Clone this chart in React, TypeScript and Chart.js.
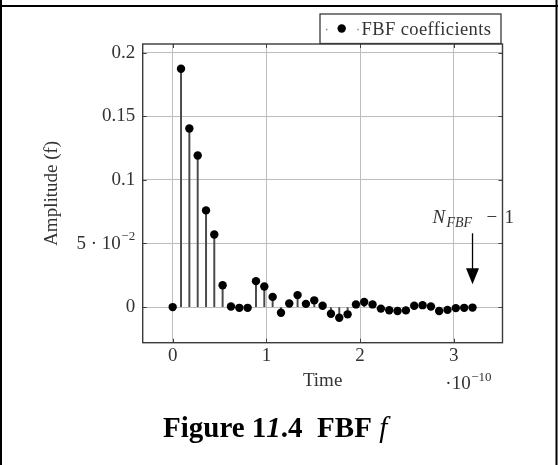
import React, { useEffect, useRef } from 'react';
import { Chart, registerables } from 'chart.js';

Chart.register(...registerables);

// Sample times (units of 1e-10 s)
const TIMES = [
  0, 0.089, 0.178, 0.267, 0.356, 0.444, 0.533, 0.622, 0.711, 0.8,
  0.889, 0.978, 1.067, 1.156, 1.244, 1.333, 1.422, 1.511, 1.6, 1.689,
  1.778, 1.867, 1.956, 2.044, 2.133, 2.222, 2.311, 2.4, 2.489, 2.578,
  2.667, 2.756, 2.844, 2.933, 3.022, 3.111, 3.2,
];

// FBF coefficient amplitudes
const COEFFS = [
  0, 0.1873, 0.1404, 0.1192, 0.076, 0.057, 0.0172, 0.0004, -0.0006, -0.0006,
  0.0204, 0.0162, 0.008, -0.0044, 0.0028, 0.0094, 0.0025, 0.0053, 0.001, -0.0052,
  -0.0084, -0.0057, 0.0021, 0.004, 0.0021, -0.0012, -0.0025, -0.0031, -0.0026, 0.0011,
  0.0015, 0.0004, -0.0031, -0.0022, -0.0008, -0.0006, -0.0004,
];

const X_TICKS = [0, 1, 2, 3];
const X_TICK_LABELS = ['0', '1', '2', '3'];
const Y_TICKS = [0, 0.05, 0.1, 0.15, 0.2];
const Y_TICK_LABELS = ['0', '5 · 10^−2', '0.1', '0.15', '0.2'];

const X_MIN = -0.32;
const X_MAX = 3.52;
const Y_MIN = -0.028;
const Y_MAX = 0.2068;

const X_TITLE = 'Time';
const X_EXPONENT = ['·10', '−10'];
const Y_TITLE = 'Amplitude (f)';
const LEGEND_LABEL = 'FBF coefficients';
const ANNOT_X = 3.2;
const ANNOT_FROM = 0.058;
const ANNOT_TO = 0.018;
const CAPTION = ['Figure 1', '1', '.4  FBF ', 'f'];

const SERIF = '"Liberation Serif", "Times New Roman", serif';
const TXT = '#333333';

const overlayPlugin = {
  id: 'overlay',
  beforeDraw(chart: any) {
    const { ctx, width, height } = chart;
    ctx.save();
    ctx.fillStyle = '#ffffff';
    ctx.fillRect(0, 0, width, height);
    ctx.restore();
  },
  beforeDatasetsDraw(chart: any) {
    const { ctx, chartArea: a, scales } = chart;
    ctx.save();
    ctx.strokeStyle = '#404040';
    ctx.lineWidth = 1;
    ctx.beginPath();
    for (const v of X_TICKS) {
      const px = Math.round(scales.x.getPixelForValue(v)) + 0.5;
      ctx.moveTo(px, a.bottom);
      ctx.lineTo(px, a.bottom - 4);
      ctx.moveTo(px, a.top);
      ctx.lineTo(px, a.top + 4);
    }
    for (const v of Y_TICKS) {
      const py = Math.round(scales.y.getPixelForValue(v)) + 0.5;
      ctx.moveTo(a.left, py);
      ctx.lineTo(a.left + 4, py);
      ctx.moveTo(a.right, py);
      ctx.lineTo(a.right - 4, py);
    }
    ctx.stroke();
    ctx.strokeStyle = '#3a3a3a';
    ctx.lineWidth = 1.4;
    ctx.strokeRect(a.left, a.top, a.right - a.left, a.bottom - a.top);
    ctx.restore();
  },
  afterDraw(chart: any) {
    const { ctx, chartArea: a, scales, width, height } = chart;
    ctx.save();
    ctx.fillStyle = TXT;
    Y_TICK_LABELS.forEach((lab, i) => {
      if (lab.indexOf('^') < 0) return;
      const [base, exp] = lab.split('^');
      const py = scales.y.getPixelForValue(Y_TICKS[i]);
      const right = a.left - 7.5;
      ctx.textAlign = 'right';
      ctx.textBaseline = 'middle';
      ctx.font = `13px ${SERIF}`;
      ctx.fillText(exp, right, py - 7);
      const ew = ctx.measureText(exp).width;
      ctx.font = `19px ${SERIF}`;
      ctx.fillText(base, right - ew - 0.5, py + 1);
    });
    {
      const right = a.right - 11;
      ctx.textAlign = 'right';
      ctx.textBaseline = 'alphabetic';
      ctx.font = `13px ${SERIF}`;
      ctx.fillText(X_EXPONENT[1], right, a.bottom + 38);
      const ew = ctx.measureText(X_EXPONENT[1]).width;
      ctx.font = `19px ${SERIF}`;
      ctx.fillText(X_EXPONENT[0], right - ew - 0.5, a.bottom + 46.5);
    }
    {
      const lx = 320, ly = 14, lw = 181, lh = 29.5;
      ctx.fillStyle = '#ffffff';
      ctx.fillRect(lx, ly, lw, lh);
      ctx.strokeStyle = '#3a3a3a';
      ctx.lineWidth = 1.3;
      ctx.strokeRect(lx, ly, lw, lh);
      const cy = ly + 14.5;
      ctx.fillStyle = '#999999';
      ctx.beginPath();
      ctx.arc(lx + 6.7, cy + 1, 0.9, 0, Math.PI * 2);
      ctx.arc(lx + 38, cy + 1, 0.9, 0, Math.PI * 2);
      ctx.fill();
      ctx.fillStyle = '#000000';
      ctx.beginPath();
      ctx.arc(lx + 21.7, cy, 4.2, 0, Math.PI * 2);
      ctx.fill();
      ctx.fillStyle = TXT;
      ctx.font = `18.5px ${SERIF}`;
      ctx.textAlign = 'left';
      ctx.textBaseline = 'alphabetic';
      try { (ctx as any).letterSpacing = '0.4px'; } catch (e) {}
      ctx.fillText(LEGEND_LABEL, lx + 41.5, ly + 21);
      try { (ctx as any).letterSpacing = '0px'; } catch (e) {}
    }
    {
      const ax = scales.x.getPixelForValue(ANNOT_X);
      const y0 = scales.y.getPixelForValue(ANNOT_FROM);
      const y1 = scales.y.getPixelForValue(ANNOT_TO);
      ctx.strokeStyle = '#000000';
      ctx.lineWidth = 1.3;
      ctx.beginPath();
      ctx.moveTo(ax, y0);
      ctx.lineTo(ax, y1 - 14);
      ctx.stroke();
      ctx.fillStyle = '#000000';
      ctx.beginPath();
      ctx.moveTo(ax - 6.5, y1 - 16);
      ctx.lineTo(ax + 6.5, y1 - 16);
      ctx.lineTo(ax, y1);
      ctx.closePath();
      ctx.fill();
      const base = y0 - 10;
      ctx.fillStyle = TXT;
      ctx.textAlign = 'left';
      ctx.textBaseline = 'alphabetic';
      ctx.font = `italic 19px ${SERIF}`;
      ctx.fillText('N', ax - 40, base);
      ctx.font = `italic 14px ${SERIF}`;
      ctx.fillText('FBF', ax - 26, base + 4);
      ctx.font = `19px ${SERIF}`;
      ctx.fillText('−', ax + 14, base);
      ctx.fillText('1', ax + 32, base);
    }
    ctx.fillStyle = '#000000';
    ctx.fillRect(0, 5, width, 2);
    ctx.fillRect(0, 0, 2, height);
    ctx.fillRect(width - 2.5, 0, 2, height);
    {
      let x = 163;
      const y = 437;
      ctx.fillStyle = '#000000';
      ctx.textAlign = 'left';
      ctx.textBaseline = 'alphabetic';
      const fonts = [
        `bold 29px ${SERIF}`,
        `italic bold 29px ${SERIF}`,
        `bold 29px ${SERIF}`,
        `italic 29px ${SERIF}`,
      ];
      CAPTION.forEach((t, i) => {
        ctx.font = fonts[i];
        ctx.fillText(t, x, y);
        x += ctx.measureText(t).width;
      });
    }
    ctx.restore();
  },
};

export default function App() {
  const ref = useRef<HTMLCanvasElement>(null);
  useEffect(() => {
    const canvas = ref.current;
    if (!canvas) return;
    const points = TIMES.map((t, i) => ({ x: t, y: COEFFS[i] }));
    const chart = new Chart(canvas, {
      type: 'scatter',
      data: {
        datasets: [
          {
            type: 'scatter',
            label: LEGEND_LABEL,
            data: points,
            pointRadius: 4.2,
            pointBackgroundColor: '#000000',
            pointBorderWidth: 0,
            borderColor: '#000000',
            showLine: false,
            order: 0,
          } as any,
          {
            type: 'bar',
            label: 'stems',
            data: points,
            backgroundColor: '#4a4a4a',
            barThickness: 1.3,
            borderWidth: 0,
            order: 1,
          } as any,
        ],
      },
      options: {
        responsive: false,
        animation: false,
        devicePixelRatio: 1,
        events: [],
        layout: { padding: { left: 0, right: 55.5, top: 44, bottom: 72.3 } },
        plugins: {
          legend: { display: false },
          tooltip: { enabled: false },
          title: { display: false },
        },
        scales: {
          x: {
            type: 'linear',
            min: X_MIN,
            max: X_MAX,
            offset: false,
            afterBuildTicks: (s: any) => {
              s.ticks = X_TICKS.map((v) => ({ value: v }));
            },
            afterFit: (s: any) => {
              s.height = 50;
            },
            ticks: {
              callback: (v: any) => {
                const i = X_TICKS.indexOf(Number(v));
                return i >= 0 ? X_TICK_LABELS[i] : '';
              },
              font: { family: SERIF, size: 19 },
              color: TXT,
              padding: 2,
              maxRotation: 0,
              autoSkip: false,
            },
            grid: { color: '#bdbdbd', lineWidth: 1, drawTicks: false, offset: false },
            border: { display: false },
            title: {
              display: true,
              text: X_TITLE,
              font: { family: SERIF, size: 19 },
              color: TXT,
              padding: { top: 0, bottom: 0 },
            },
          },
          y: {
            type: 'linear',
            min: Y_MIN,
            max: Y_MAX,
            afterBuildTicks: (s: any) => {
              s.ticks = Y_TICKS.map((v) => ({ value: v }));
            },
            afterFit: (s: any) => {
              s.width = 142.7;
            },
            ticks: {
              callback: (v: any) => {
                const i = Y_TICKS.findIndex((t) => Math.abs(t - Number(v)) < 1e-9);
                if (i < 0) return '';
                const lab = Y_TICK_LABELS[i];
                return lab.indexOf('^') >= 0 ? '' : lab;
              },
              font: { family: SERIF, size: 19 },
              color: TXT,
              padding: 7.5,
              autoSkip: false,
            },
            grid: { color: '#bdbdbd', lineWidth: 1, drawTicks: false },
            border: { display: false },
            title: {
              display: true,
              text: Y_TITLE,
              font: { family: SERIF, size: 19 },
              color: TXT,
              padding: { top: 40.3, bottom: 0 },
            },
          },
        },
      },
      plugins: [overlayPlugin],
    } as any);
    return () => chart.destroy();
  }, []);
  return (
    <canvas
      ref={ref}
      width={558}
      height={465}
      style={{ position: 'fixed', left: 0, top: 0, width: 558, height: 465, display: 'block' }}
    />
  );
}
